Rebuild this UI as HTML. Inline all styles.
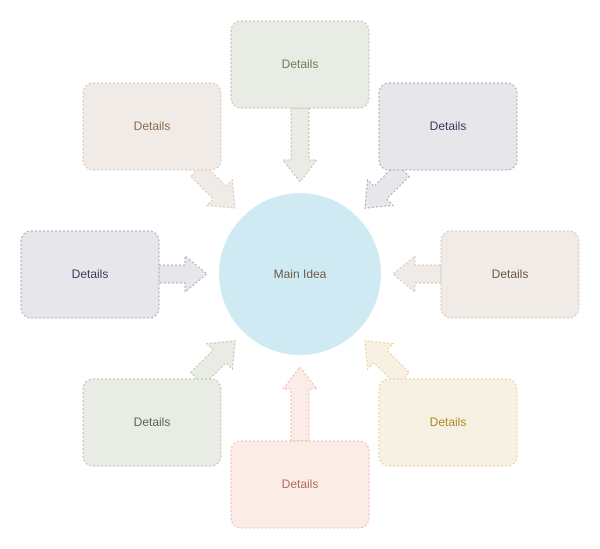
<!DOCTYPE html>
<html><head><meta charset="utf-8"><style>
html,body{margin:0;padding:0;background:#fff;}
svg{display:block}
text{font-family:"Liberation Sans",sans-serif;font-size:12px;text-anchor:middle;dominant-baseline:central}
</style></head><body>
<svg width="600" height="549" viewBox="0 0 600 549" xmlns="http://www.w3.org/2000/svg">
<defs>
<path id="a74" d="M0,-9 L52,-9 L52,-17 L74,0 L52,17 L52,9 L0,9 Z"/>
<path id="a48" d="M0,-9 L26,-9 L26,-18 L48,0 L26,18 L26,9 L0,9 Z"/>
<path id="a54" d="M0,-9 L32,-9 L32,-18 L54,0 L32,18 L32,9 L0,9 Z"/>
</defs>
<g stroke-dasharray="2,2" stroke-width="1">
<!-- arrows -->
<use href="#a74" transform="translate(300,108) rotate(90)" fill="#e9ece5" stroke="#b8bfae"/>
<use href="#a74" transform="translate(300,441) rotate(-90)" fill="#fbece8" stroke="#eeb7a8"/>
<use href="#a48" transform="translate(159,274)" fill="#e7e6ea" stroke="#a8a6b0"/>
<use href="#a48" transform="translate(441,274) rotate(180)" fill="#f0ebe6" stroke="#d6c3b2"/>
<use href="#a54" transform="translate(197,170) rotate(45)" fill="#f0ebe6" stroke="#d6c3b2"/>
<use href="#a54" transform="translate(403,170) rotate(135)" fill="#e7e6ea" stroke="#a8a6b0"/>
<use href="#a54" transform="translate(197,379) rotate(-45)" fill="#e9ece5" stroke="#b8bfae"/>
<use href="#a54" transform="translate(403,379) rotate(-135)" fill="#f6f1e3" stroke="#e6cf88"/>
<!-- boxes -->
<rect x="231" y="21" width="138" height="87" rx="10" fill="#e9ece5" stroke="#b8bfae"/>
<rect x="83" y="83" width="138" height="87" rx="10" fill="#f0ebe6" stroke="#d6c3b2"/>
<rect x="379" y="83" width="138" height="87" rx="10" fill="#e7e6ea" stroke="#a8a6b0"/>
<rect x="21" y="231" width="138" height="87" rx="10" fill="#e7e6ea" stroke="#a8a6b0"/>
<rect x="441" y="231" width="138" height="87" rx="10" fill="#f0ebe6" stroke="#d6c3b2"/>
<rect x="83" y="379" width="138" height="87" rx="10" fill="#e9ece5" stroke="#b8bfae"/>
<rect x="231" y="441" width="138" height="87" rx="10" fill="#fbece8" stroke="#eeb7a8"/>
<rect x="379" y="379" width="138" height="87" rx="10" fill="#f6f1e3" stroke="#e6cf88"/>
</g>
<circle cx="300" cy="274" r="81" fill="#d0eaf4"/>
<text x="300" y="274" fill="#6a5a4a">Main Idea</text>
<text x="300" y="64" fill="#6b7c55">Details</text>
<text x="152" y="126" fill="#8a6a4a">Details</text>
<text x="448" y="126" fill="#3c3560">Details</text>
<text x="90" y="274" fill="#3c3560">Details</text>
<text x="510" y="274" fill="#6a5a40">Details</text>
<text x="152" y="422" fill="#4f6a4a">Details</text>
<text x="300" y="484" fill="#b06a5a">Details</text>
<text x="448" y="422" fill="#a88a20">Details</text>
</svg>
</body></html>
